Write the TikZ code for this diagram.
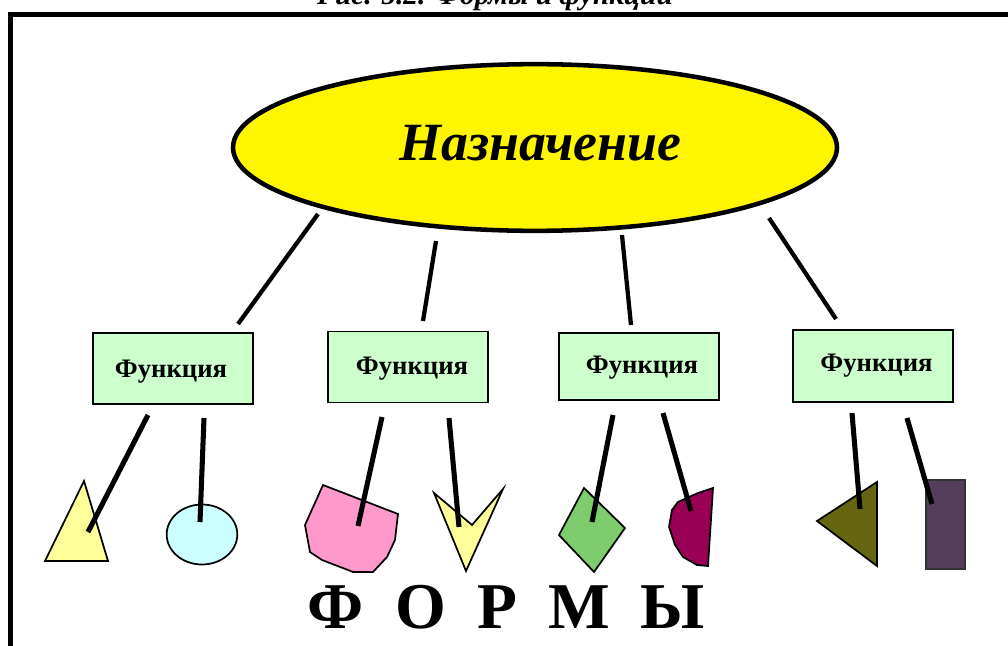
\documentclass[tikz,border=0pt]{standalone}
\usepackage{fontspec}
\setmainfont{Liberation Serif}
\usetikzlibrary{shapes.geometric}
\definecolor{ovalY}{HTML}{FFF500}
\definecolor{boxG}{HTML}{CCFFCC}
\definecolor{lemon}{HTML}{FFFF99}
\definecolor{aqua}{HTML}{CCFFFF}
\definecolor{rosy}{HTML}{FF99CC}
\definecolor{leaf}{HTML}{7FCC6F}
\definecolor{berry}{HTML}{990055}
\definecolor{olive2}{HTML}{666611}
\definecolor{plum2}{HTML}{553D5C}
\tikzset{
  x=0.75pt,y=-0.75pt,
  funcbox/.style={draw=black,line width=1.2pt,fill=boxG,inner sep=0pt},
  functext/.style={inner sep=0pt,anchor=base,font=\fontsize{20}{22}\selectfont\bfseries},
  heavy/.style={line width=3.8pt,line cap=butt},
  thick2/.style={line width=3.2pt,line cap=butt},
  formshape/.style={draw=black,line width=1.3pt,line join=miter},
  bigletter/.style={inner sep=0pt,anchor=base,font=\fontsize{49}{52}\selectfont\bfseries},
}
\begin{document}
\begin{tikzpicture}
\useasboundingbox (0,0) rectangle (1008,646);
\begin{scope}
\clip (0,0) rectangle (1008,646);
\node[inner sep=0pt,anchor=base] (caption) at (495,5) {\fontsize{22}{24}\selectfont\bfseries\itshape Рис. 5.2. Формы и функции};
\draw[line width=3.6pt,fill=white] (10.5,14.5) rectangle (1030,680);
\end{scope}

\node[ellipse,draw=black,line width=3.4pt,fill=ovalY,minimum width=453pt,minimum height=125pt,inner sep=0pt] (goal) at (535,147.5) {};
\node[inner sep=0pt,anchor=base] (goaltext) at (540.5,160) {\fontsize{40.4}{42}\selectfont\bfseries\itshape Назначение};

\node[funcbox,minimum width=120pt,minimum height=53pt] (f1) at (173,368.5) {};
\node[funcbox,minimum width=120pt,minimum height=53pt] (f2) at (408,367) {};
\node[funcbox,minimum width=120pt,minimum height=50pt] (f3) at (639,366.5) {};
\node[funcbox,minimum width=120pt,minimum height=54pt] (f4) at (873,366) {};
\node[functext] (t1) at (171,377) {Функция};
\node[functext] (t2) at (412,374) {Функция};
\node[functext] (t3) at (642,373) {Функция};
\node[functext] (t4) at (876.5,371) {Функция};

% forms
\draw[formshape,fill=lemon] (84,481) -- (108,561) -- (45,561) -- cycle;
\node[ellipse,draw=black,line width=1.3pt,fill=aqua,minimum width=53pt,minimum height=45pt,inner sep=0pt] (circ) at (202,534.5) {};
\draw[formshape,fill=rosy] (323,485) -- (398,514) -- (395,540) -- (387,557) -- (373,572) -- (353,572) -- (348,570) -- (322,560) -- (310,552) -- (305,525) -- cycle;
\draw[formshape,fill=lemon] (434,493) -- (472,525) -- (503,489) -- (466,571) -- cycle;
\draw[formshape,fill=leaf] (584,488) -- (625,528) -- (594,572) -- (559,535) -- cycle;
\draw[formshape,fill=berry] (713,488) -- (708,566) -- (697,565) -- (683,557) -- (675,545) -- (669,527) -- (672,510) -- (678,502) -- (698,493) -- cycle;
\draw[formshape,fill=olive2] (877,482) -- (877,566) -- (817,521) -- cycle;
\draw[line width=1.4pt,draw=black!80,fill=plum2] (926,480) rectangle (965,569);

% connector ends
\coordinate (g1) at (318,214);\coordinate (a1) at (238,324);
\coordinate (g2) at (436,241);\coordinate (a2) at (423,321);
\coordinate (g3) at (622,235);\coordinate (a3) at (631,325);
\coordinate (g4) at (769,218);\coordinate (a4) at (836,319);
\coordinate (s1) at (148,415);\coordinate (e1) at (88,532);
\coordinate (s2) at (204,418);\coordinate (e2) at (200,522);
\coordinate (s3) at (382,417);\coordinate (e3) at (358,526);
\coordinate (s4) at (449,418);\coordinate (e4) at (459,527);
\coordinate (s5) at (613,415);\coordinate (e5) at (592,522);
\coordinate (s6) at (663,413);\coordinate (e6) at (691,511);
\coordinate (s7) at (852,413);\coordinate (e7) at (860,509);
\coordinate (s8) at (907,418);\coordinate (e8) at (932,504);
\foreach \p/\q in {g1/a1,g2/a2,g3/a3,g4/a4}{\draw[thick2] (\p) -- (\q);}
\foreach \p/\q in {s1/e1,s2/e2,s3/e3,s4/e4,s5/e5,s6/e6,s7/e7,s8/e8}{\draw[heavy] (\p) -- (\q);}

\node[bigletter] (L1) at (336,628) {Ф};
\node[bigletter] (L2) at (421,628) {О};
\node[bigletter] (L3) at (497,628) {Р};
\node[bigletter] (L4) at (579,628) {М};
\node[bigletter] (L5) at (673,628) {Ы};
\end{tikzpicture}
\end{document}
